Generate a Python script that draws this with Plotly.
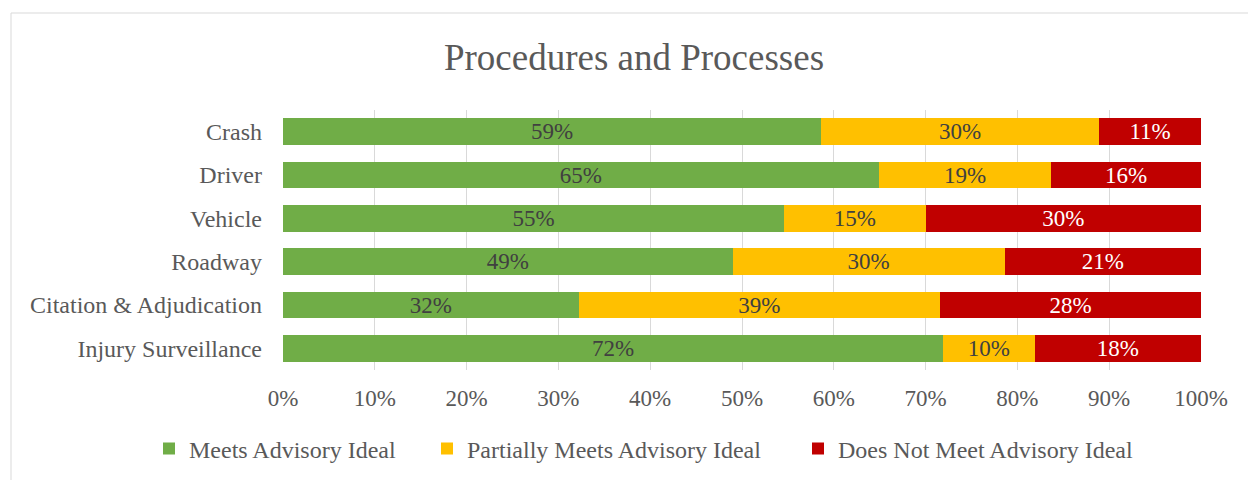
import plotly.graph_objects as go

categories = ["Crash", "Driver", "Vehicle", "Roadway", "Citation & Adjudication", "Injury Surveillance"]
meets = [0.586, 0.649, 0.546, 0.490, 0.322, 0.719]
partially = [0.303, 0.188, 0.154, 0.296, 0.394, 0.100]
does_not = [0.111, 0.163, 0.300, 0.214, 0.284, 0.181]
series_names = ["Meets Advisory Ideal", "Partially Meets Advisory Ideal", "Does Not Meet Advisory Ideal"]
colors = ["#70AD47", "#FFC000", "#C00000"]
label_colors = ["#404040", "#404040", "#FFFFFF"]
legend_widths = [233, 326, 320]

FONT = "Liberation Serif, Times New Roman, serif"
GRAY = "#595959"

fig = go.Figure()
for name, vals, col, lc, lw in zip(series_names, [meets, partially, does_not], colors, label_colors, legend_widths):
    fig.add_trace(go.Bar(
        y=categories, x=vals, name=name, orientation="h",
        marker=dict(color=col, line=dict(width=0)),
        texttemplate="%{x:.0%}", textposition="inside", insidetextanchor="middle",
        constraintext="none",
        insidetextfont=dict(family=FONT, size=23, color=lc),
        legendwidth=lw,
        hoverinfo="skip",
    ))

fig.update_layout(
    barmode="stack",
    bargap=0.38,
    width=1248, height=480,
    margin=dict(l=283, r=47, t=110, b=110, autoexpand=False),
    paper_bgcolor="white", plot_bgcolor="white",
    font=dict(family=FONT, color=GRAY, size=23),
    title=dict(text="Procedures and Processes", x=0.508, xref="container", xanchor="center",
               y=1 - 57 / 480, yref="container", yanchor="middle",
               font=dict(family=FONT, size=37, color=GRAY)),
    xaxis=dict(range=[0, 1], tickformat=".0%", dtick=0.1, showgrid=True, gridcolor="#D9D9D9",
               gridwidth=1, zeroline=False, showline=False, ticklabelstandoff=12,
               tickfont=dict(family=FONT, size=23, color=GRAY), fixedrange=True),
    yaxis=dict(autorange="reversed", showgrid=False, showline=False, ticklabelstandoff=20,
               tickfont=dict(family=FONT, size=24, color=GRAY)),
    legend=dict(orientation="h", xref="paper", yref="paper", x=(149 - 283) / 918, xanchor="left",
                y=(370 - 449) / 260, yanchor="middle", font=dict(family=FONT, size=24, color=GRAY),
                traceorder="normal", itemwidth=30),
    showlegend=True,
)

fig.add_shape(type="rect", xref="paper", yref="paper", x0=(11 - 283) / 918, x1=1.2,
              y0=-0.6, y1=(370 - 13) / 260, line=dict(color="#D9D9D9", width=1),
              fillcolor="rgba(0,0,0,0)", layer="below")

fig.write_html("out.html")
